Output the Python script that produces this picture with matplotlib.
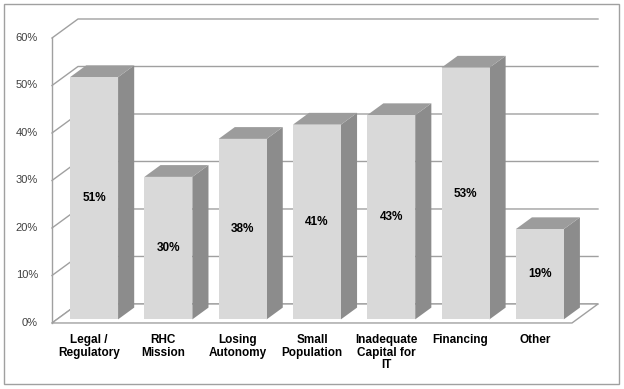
#!/usr/bin/env python3

import numpy as np
import matplotlib.pyplot as plt
from matplotlib.patches import Polygon, Rectangle

categories = ["Legal /\nRegulatory", "RHC\nMission", "Losing\nAutonomy", "Small\nPopulation",
              "Inadequate\nCapital for\nIT", "Financing", "Other"]
values = [51, 30, 38, 41, 43, 53, 19]
labels = ["51%", "30%", "38%", "41%", "43%", "53%", "19%"]
yticks = [0, 10, 20, 30, 40, 50, 60]
ytick_labels = ["0%", "10%", "20%", "30%", "40%", "50%", "60%"]

plt.rcParams['font.family'] = ['Liberation Sans', 'DejaVu Sans']

# oblique projection for depth (full depth of the floor)
DX, DY = 0.35, 4.0
d0, d1 = 0.19, 0.81      # bar depth range
bw = 0.646               # bar width
grid_c = '#a0a0a0'


def shift(x, y, d):
    return x + DX * d, y + DY * d


fig = plt.figure(figsize=(6.24, 3.89), dpi=100)
ax = fig.add_axes([0, 0, 1, 1])
ax.set_xlim(-1.2, 7.2)
ax.set_ylim(-13.9, 68.0)
ax.axis('off')

n = len(categories)
x0, x1 = -0.5, n - 0.5

# back wall gridlines and left wall
for t in yticks:
    bx0, by = shift(x0, t, 1)
    bx1, _ = shift(x1, t, 1)
    ax.plot([x0, bx0, bx1], [t, by, by], color=grid_c, lw=1, zorder=1)
ax.plot([x0, x0], [0, 60], color=grid_c, lw=1, zorder=1)

# floor
fl = [(x0, 0), (x1, 0), shift(x1, 0, 1), shift(x0, 0, 1)]
ax.add_patch(Polygon(fl, closed=True, facecolor='white', edgecolor=grid_c, lw=1, zorder=2))

# bars
for i, v in enumerate(values):
    l, r = i - bw / 2, i + bw / 2
    fl_, fb = shift(l, 0, d0)
    fr_, _ = shift(r, 0, d0)
    ft = fb + v
    sx, sy = DX * (d1 - d0), DY * (d1 - d0)
    side = [(fr_, fb), (fr_ + sx, fb + sy), (fr_ + sx, ft + sy), (fr_, ft)]
    top = [(fl_, ft), (fr_, ft), (fr_ + sx, ft + sy), (fl_ + sx, ft + sy)]
    ax.add_patch(Polygon(side, closed=True, facecolor='#8c8c8c', edgecolor='none', zorder=3))
    ax.add_patch(Polygon(top, closed=True, facecolor='#9c9c9c', edgecolor='none', zorder=3))
    ax.add_patch(Rectangle((fl_, fb), fr_ - fl_, v, facecolor='#d9d9d9', edgecolor='none', zorder=4))
    ax.text((fl_ + fr_) / 2, fb + v / 2, labels[i], ha='center', va='center',
            fontsize=8.5, fontweight='bold', color='black', zorder=5)
    ax.text(i, -2.4, categories[i], ha='center', va='top', fontsize=8.5,
            fontweight='bold', color='black', linespacing=1.05)

for t, s in zip(yticks, ytick_labels):
    ax.text(-0.69, t, s, ha='right', va='center', fontsize=8, color='#404040')

fig.patches.append(Rectangle((4 / 624, 5 / 389), 615 / 624, 380 / 389, transform=fig.transFigure,
                             fill=False, edgecolor='#a0a0a0', lw=1))

fig.savefig('out.png', dpi=100)
